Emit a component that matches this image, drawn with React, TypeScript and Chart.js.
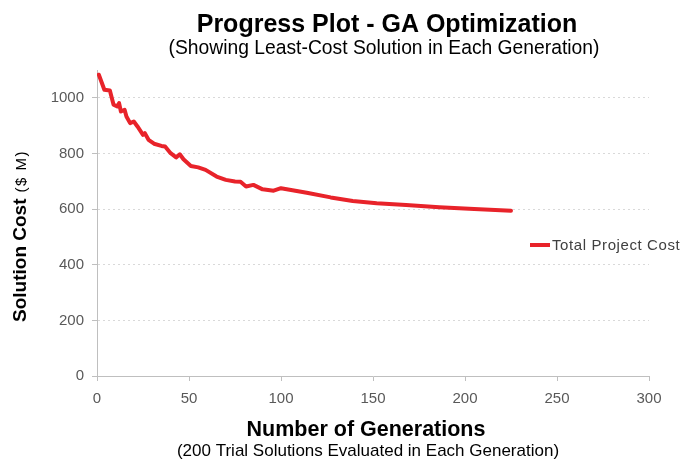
import React, { useEffect, useRef } from "react";
import { Chart, registerables } from "chart.js";

Chart.register(...registerables);

const generations = [1, 4, 7, 9, 11, 12, 13, 15, 16, 18, 20, 22, 25, 26, 28, 31, 35, 37, 40, 43, 45, 47, 51, 55, 59, 65, 70, 75, 78, 81, 85, 90, 96, 100, 114, 127, 139, 152, 168, 186, 205, 225];
const costs = [1083, 1029, 1026, 975, 969, 981, 951, 957, 933, 909, 915, 897, 867, 873, 849, 835, 827, 825, 801, 786, 797, 779, 755, 750, 741, 717, 705, 699, 698, 681, 687, 671, 666, 675, 659, 642, 629, 621, 615, 607, 600, 594];

const seriesLabel = "Total Project Cost";
const titleText = "Progress Plot - GA Optimization";
const subtitleText = "(Showing Least-Cost Solution in Each Generation)";
const xTitleText = "Number of Generations";
const xSubtitleText = "(200 Trial Solutions Evaluated in Each Generation)";
const yTitleMain = "Solution Cost";
const yTitleUnit = "($ M)";

const FONT = "'Liberation Sans', Arial, sans-serif";
const RED = "#e8232a";

const textPlugin = {
  id: "customText",
  afterDraw(chart: any) {
    const ctx = chart.ctx;
    ctx.save();
    ctx.textBaseline = "alphabetic";
    ctx.fillStyle = "#000";
    ctx.textAlign = "center";
    ctx.font = `bold 25px ${FONT}`;
    ctx.fillText(titleText, 387, 32);
    ctx.font = `19.3px ${FONT}`;
    ctx.fillText(subtitleText, 384, 54);
    ctx.font = `bold 21.5px ${FONT}`;
    ctx.fillText(xTitleText, 366, 436);
    ctx.font = `17px ${FONT}`;
    ctx.fillText(xSubtitleText, 368, 456);

    // y-axis title
    ctx.save();
    ctx.translate(26, 322);
    ctx.rotate(-Math.PI / 2);
    ctx.textAlign = "left";
    ctx.font = `bold 19px ${FONT}`;
    ctx.fillText(yTitleMain, 0, 0);
    const w = ctx.measureText(yTitleMain).width + 6;
    ctx.font = `15px ${FONT}`;
    (ctx as any).letterSpacing = "1.5px";
    ctx.fillText(yTitleUnit, w, 0);
    (ctx as any).letterSpacing = "0px";
    ctx.restore();

    // legend
    const ds = chart.data.datasets[0];
    ctx.strokeStyle = ds.borderColor;
    ctx.lineWidth = 4;
    ctx.beginPath();
    ctx.moveTo(530, 245);
    ctx.lineTo(550, 245);
    ctx.stroke();
    ctx.fillStyle = "#404040";
    ctx.textAlign = "left";
    ctx.font = `15px ${FONT}`;
    (ctx as any).letterSpacing = "0.6px";
    ctx.fillText(ds.label, 552, 250);
    (ctx as any).letterSpacing = "0px";
    ctx.restore();
  },
};

export default function App() {
  const ref = useRef<HTMLCanvasElement>(null);
  useEffect(() => {
    document.body.style.margin = "0";
    const canvas = ref.current!;
    const chart = new Chart(canvas, {
      type: "line",
      data: {
        datasets: [
          {
            label: seriesLabel,
            data: generations.map((g, i) => ({ x: g, y: costs[i] })),
            borderColor: RED,
            backgroundColor: RED,
            borderWidth: 4,
            pointRadius: 0,
            tension: 0,
            borderJoinStyle: "round",
            borderCapStyle: "round",
          },
        ],
      },
      options: {
        responsive: false,
        animation: false,
        devicePixelRatio: 1,
        layout: { padding: { top: 70, right: 33, left: 0, bottom: 0 } },
        plugins: { legend: { display: false }, title: { display: false }, tooltip: { enabled: false } },
        scales: {
          x: {
            type: "linear",
            min: 0,
            max: 300,
            afterFit: (s: any) => { s.height = 84; },
            ticks: { stepSize: 50, color: "#595959", font: { family: FONT, size: 15 }, padding: 9, maxRotation: 0, callback: (v: any) => String(v) },
            grid: { drawOnChartArea: false, drawTicks: true, tickLength: 5, tickColor: "#bfbfbf", color: "#bfbfbf" },
            border: { color: "#bfbfbf", width: 1 },
          },
          y: {
            type: "linear",
            min: 0,
            max: 1100,
            afterFit: (s: any) => { s.width = 97; },
            afterBuildTicks: (s: any) => { s.ticks = s.ticks.filter((t: any) => t.value <= 1000); },
            ticks: { stepSize: 200, color: "#595959", font: { family: FONT, size: 15 }, padding: 8, callback: (v: any) => String(v) },
            grid: {
              drawTicks: true,
              tickLength: 5,
              tickColor: "#bfbfbf",
              tickBorderDash: [],
              color: (c: any) => (c.tick && c.tick.value === 0 ? "rgba(0,0,0,0)" : "#d9d9d9"),
            },
            border: { color: "#bfbfbf", width: 1, dash: [2, 3] },
          },
        },
      },
      plugins: [textPlugin],
    });
    return () => chart.destroy();
  }, []);
  return (
    <div style={{ width: 682, height: 460, background: "#fff" }}>
      <canvas ref={ref} width={682} height={460} style={{ display: "block" }} />
    </div>
  );
}
